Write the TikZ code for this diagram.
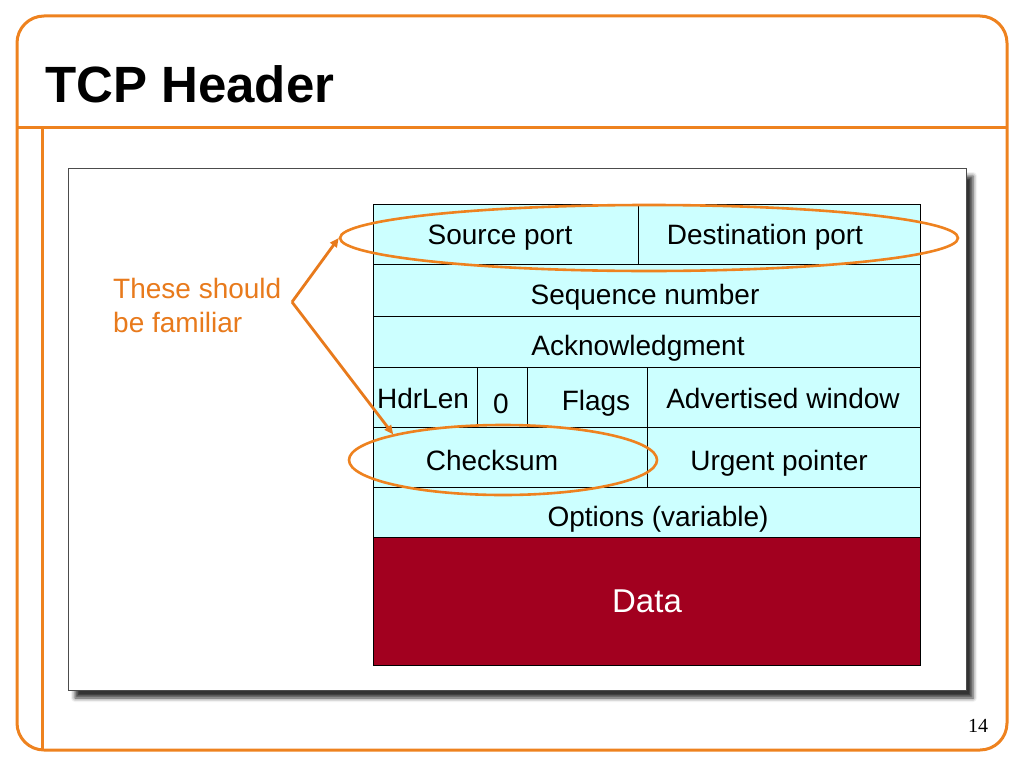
\documentclass[tikz,border=0pt]{standalone}
\usepackage{fontspec}
\setmainfont{Liberation Sans}
\newfontfamily\pagefont{Liberation Serif}
\usetikzlibrary{arrows.meta,shapes.geometric,shadows.blur}

\definecolor{frameorange}{HTML}{EE821F}
\definecolor{noteorange}{HTML}{E87A1C}
\definecolor{cellcyan}{HTML}{CCFFFF}
\definecolor{datared}{HTML}{A2001F}

\begin{document}
\begin{tikzpicture}[x=1pt,y=-1pt,
  field/.style={font=\fontsize{28}{32}\selectfont, text height=20pt, text depth=6pt, inner sep=0pt},
  ring/.style={ellipse, draw=frameorange, line width=2.6pt, inner sep=0pt},
  hint/.style={draw=noteorange, line width=2.8pt, -{Triangle[length=9pt,width=8pt]}}]
\useasboundingbox (0,0) rectangle (1024,768);

% slide frame
\draw[frameorange, line width=3pt, rounded corners=27pt] (17,16) rectangle (1007,750);
\draw[frameorange, line width=3pt] (17,127) -- (1007,127);
\draw[frameorange, line width=3pt] (42,127) -- (42,750);

\node[anchor=base west, font=\fontsize{51}{60}\selectfont\bfseries, inner sep=0pt] (title) at (45,102) {TCP Header};

% panel with shadow
\draw[draw=gray!60!black, line width=1pt, fill=white,
  blur shadow={shadow xshift=7pt, shadow yshift=-8pt, shadow blur radius=4pt, shadow opacity=80}]
  (68,168) rectangle (966,690);

% header table
\fill[cellcyan] (373,204) rectangle (920,537);
\fill[datared] (373,537) rectangle (920,665);
\draw[line width=1pt] (373,204) rectangle (920,665);
\foreach \y in {264,316,367,427,487,537}
  \draw[line width=1pt] (373,\y) -- (920,\y);
\draw[line width=1pt] (638,204) -- (638,264);
\draw[line width=1pt] (477,367) -- (477,427);
\draw[line width=1pt] (527,367) -- (527,427);
\draw[line width=1pt] (647,367) -- (647,487);

\node[field] (srcport) at (500,237) {Source port};
\node[field] (dstport) at (765,237) {Destination port};
\node[field] (seqnum) at (645,297) {Sequence number};
\node[field] (acknum) at (638,348) {Acknowledgment};
\node[field] (hdrlen) at (423,401) {HdrLen};
\node[field] (zero) at (501,406) {0};
\node[field] (flags) at (596,403) {Flags};
\node[field] (window) at (783,401) {Advertised window};
\node[field] (checksum) at (492,463) {Checksum};
\node[field] (urgent) at (779,463) {Urgent pointer};
\node[field] (options) at (658,519) {Options (variable)};
\node[field, text=white, font=\fontsize{33}{38}\selectfont] (data) at (647,605) {Data};

% highlighted fields
\node[ring, minimum width=618pt, minimum height=66pt] (portring) at (649,238) {};
\node[ring, minimum width=308pt, minimum height=70pt] (sumring) at (503,460) {};

% note
\node[anchor=base west, align=left, text=noteorange, inner sep=0pt,
  font=\fontsize{28}{34}\selectfont] (note) at (113,332) {These should\\be familiar};
\coordinate (fork) at (292,302);
\draw[hint] (fork) -- (portring.west);
\draw[hint] (fork) -- (sumring.north west);

\node[font=\pagefont\fontsize{20}{24}\selectfont, inner sep=0pt] (pagenum) at (978,726) {14};
\end{tikzpicture}
\end{document}
